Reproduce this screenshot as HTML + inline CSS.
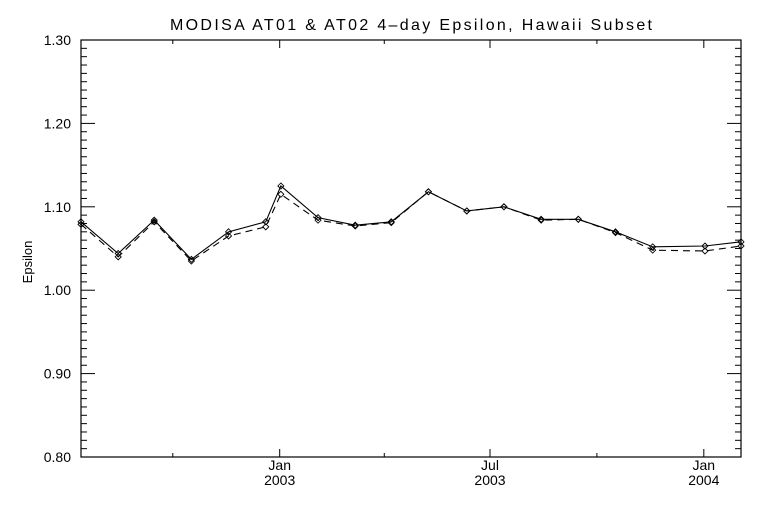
<!DOCTYPE html>
<html><head><meta charset="utf-8"><style>
html,body{margin:0;padding:0;background:#fff;}
svg{display:block;font-family:"Liberation Sans",sans-serif;}
</style></head><body>
<svg id="chart" width="768" height="512" viewBox="0 0 768 512">
<rect width="768" height="512" fill="#fff"/>
<text x="170" y="30" font-size="16" textLength="482" lengthAdjust="spacing" fill="#000">MODISA AT01 &amp; AT02 4–day Epsilon, Hawaii Subset</text>
<text transform="translate(32,262) rotate(-90)" font-size="13" text-anchor="middle" fill="#000">Epsilon</text>
<g id="axes"></g>
<g id="series"></g>
</svg>
<script>
const days = [-171,-139,-108,-76,-44,-12,1,33,65,96,128,161,193,225,257,289,321,366,397];
const at01 = [1.082,1.044,1.084,1.037,1.070,1.082,1.125,1.087,1.078,1.082,1.118,1.095,1.100,1.085,1.085,1.070,1.052,1.053,1.058];
const at02 = [1.079,1.040,1.082,1.035,1.065,1.076,1.115,1.084,1.077,1.081,1.118,1.095,1.100,1.084,1.085,1.069,1.048,1.047,1.053];
const yTicks = ["0.80","0.90","1.00","1.10","1.20","1.30"];
const xMajorDays = [0,181,365];
const xMajorLabels = [["Jan","2003"],["Jul","2003"],["Jan","2004"]];
const xMinorDays = [-92,90,273];

const L=81,R=741,T=40,B=457;
const dMin=-171,dMax=397,yMin=0.80,yMax=1.30;
const xs=d=>L+(d-dMin)/(dMax-dMin)*(R-L);
const ys=v=>B-(v-yMin)/(yMax-yMin)*(B-T);
const NS="http://www.w3.org/2000/svg";
const axes=document.getElementById('axes'), ser=document.getElementById('series');
function mk(tag,attrs,parent){const e=document.createElementNS(NS,tag);for(const k in attrs)e.setAttribute(k,attrs[k]);parent.appendChild(e);return e;}

const frame=mk('rect',{x:L,y:T,width:R-L,height:B-T,fill:'none',stroke:'#000','stroke-width':1.2},axes);



for(let i=0;i<=50;i++){
  const v=yMin+i*0.01, y=ys(v), major=i%10===0, len=major?14:6;
  const t1=mk('line',{x1:L,x2:L+len,y1:y,y2:y,stroke:'#000'},axes);
  
  
  const t2=mk('line',{x1:R,x2:R-len,y1:y,y2:y,stroke:'#000'},axes);
  
  
}
yTicks.forEach(s=>{
  const t=mk('text',{x:L-10,y:ys(parseFloat(s))+5,'font-size':14,'text-anchor':'end',fill:'#000'},axes);
  t.textContent=s;
  
  
});
xMajorDays.forEach((d,i)=>{
  const x=xs(d);
  const a=mk('line',{x1:x,x2:x,y1:B,y2:B-8,stroke:'#000'},axes);
  
  
  const b=mk('line',{x1:x,x2:x,y1:T,y2:T+8,stroke:'#000'},axes);
  
  
  xMajorLabels[i].forEach((s,j)=>{
    const t=mk('text',{x:x,y:B+13+j*15,'font-size':14,'text-anchor':'middle',fill:'#000'},axes);
    t.textContent=s;
    
    
  });
});
xMinorDays.forEach(d=>{
  const x=xs(d);
  const a=mk('line',{x1:x,x2:x,y1:B,y2:B-4,stroke:'#000'},axes);
  
  
  const b=mk('line',{x1:x,x2:x,y1:T,y2:T+4,stroke:'#000'},axes);
  
  
});

function series(vals,name,dash){
  const pts=days.map((d,i)=>xs(d)+','+ys(vals[i])).join(' ');
  const p=mk('polyline',{points:pts,fill:'none',stroke:'#000','stroke-width':1.1},ser);
  if(dash)p.setAttribute('stroke-dasharray',dash);
  
  
  days.forEach((d,i)=>{
    const x=xs(d),y=ys(vals[i]);
    const m=mk('polygon',{points:`${x},${y-3} ${x+3},${y} ${x},${y+3} ${x-3},${y}`,fill:'none',stroke:'#000','stroke-width':0.9},ser);
    
    
  });
}
series(at02,'at02','7,5');
series(at01,'at01',null);
</script>
</body></html>
